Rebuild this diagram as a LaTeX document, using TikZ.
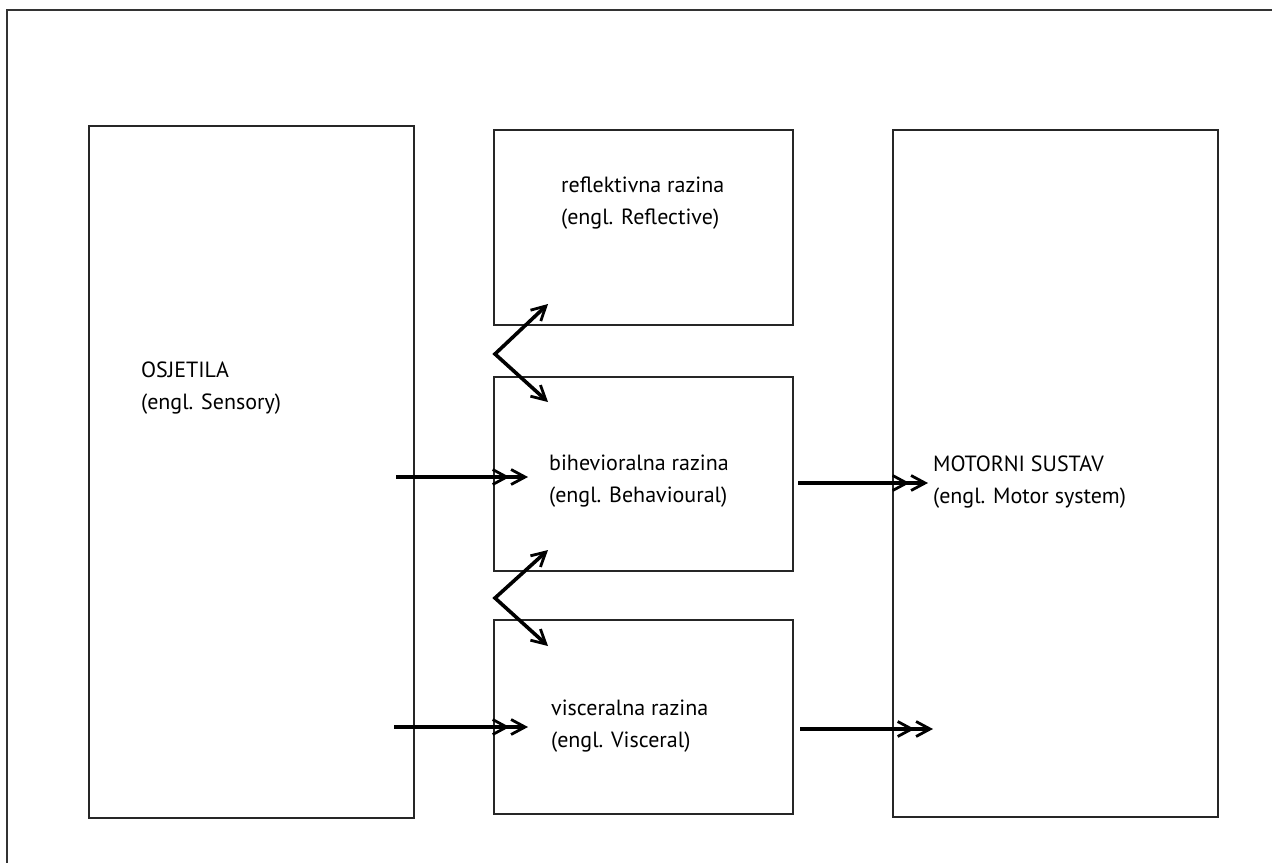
\documentclass[tikz,border=0pt]{standalone}
\usepackage{fontspec}
\setmainfont{PT Sans}
\usetikzlibrary{arrows.meta}
\begin{document}
\begin{tikzpicture}[x=1pt,y=-1pt,
  box/.style={draw=black!85,line width=2.5pt},
  lbl/.style={anchor=west,align=left,font=\fontsize{22}{31.5}\selectfont,inner sep=0pt},
  dbl/.style={line width=3.6pt,-{Straight Barb[length=14pt,width=15pt,line width=2.8pt]Straight Barb[length=14pt,width=15pt,line width=2.8pt]}},
  sgl/.style={line width=3.6pt,{Straight Barb[length=14pt,width=15pt,line width=2.8pt]}-{Straight Barb[length=14pt,width=15pt,line width=2.8pt]}}]
\useasboundingbox (0,0) rectangle (1272,863);
\draw[line width=2.5pt,black!80] (1272,10) -- (7,10) -- (7,863);
\draw[box] (89,126) rectangle (414,818);
\draw[box] (494,130) rectangle (793,325);
\draw[box] (494,377) rectangle (793,571);
\draw[box] (494,620) rectangle (793,814);
\draw[box] (893,130) rectangle (1218,817);
\node[lbl] (os) at (141,388) {OSJETILA\\(engl. Sensory)};
\node[lbl] (re) at (561,203) {reflektivna razina\\(engl. Reflective)};
\node[lbl] (bi) at (549,481) {bihevioralna razina\\(engl. Behavioural)};
\node[lbl] (vi) at (551,726) {visceralna razina\\(engl. Visceral)};
\node[lbl] (mo) at (933,482) {MOTORNI SUSTAV\\(engl. Motor system)};
\coordinate (a1s) at (396,477); \coordinate (a1e) at (528,477);
\coordinate (a2s) at (394,727); \coordinate (a2e) at (528,727);
\coordinate (a3s) at (798,483); \coordinate (a3e) at (928,483);
\coordinate (a4s) at (800,729); \coordinate (a4e) at (933,729);
\draw[dbl] (a1s) -- (a1e);
\draw[dbl] (a2s) -- (a2e);
\draw[dbl] (a3s) -- (a3e);
\draw[dbl] (a4s) -- (a4e);
\coordinate (z1u) at (548,304); \coordinate (z1a) at (495,354); \coordinate (z1d) at (548,402);
\coordinate (z2u) at (548,550); \coordinate (z2a) at (495,598); \coordinate (z2d) at (548,646);
\draw[sgl,line join=miter] (z1u) -- (z1a) -- (z1d);
\draw[sgl,line join=miter] (z2u) -- (z2a) -- (z2d);
\end{tikzpicture}
\end{document}
